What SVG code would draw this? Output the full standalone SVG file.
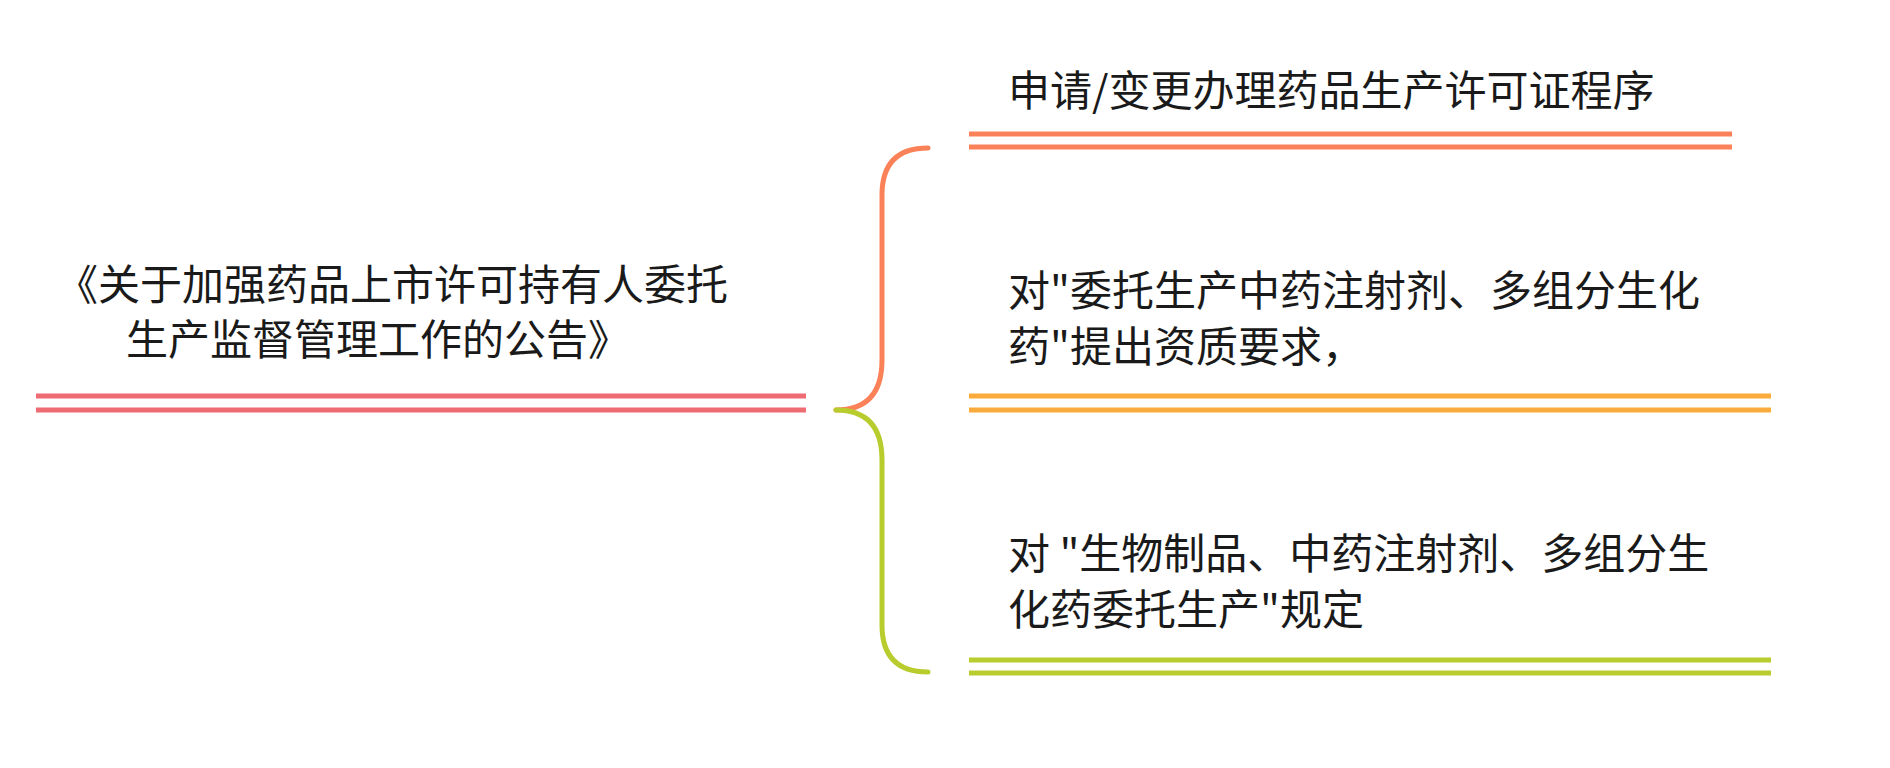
<svg xmlns="http://www.w3.org/2000/svg" width="1890" height="768" viewBox="0 0 1890 768">
<style>
text{font-family:"Microsoft YaHei","Noto Sans CJK SC",sans-serif;fill:#1a1a1a}
.l{font-size:42px}.r{font-size:42px}
.ln{stroke-width:5;fill:none}
</style>
<rect width="1890" height="768" fill="#fff"/>
<g id="connectors" fill="none" stroke-width="5" stroke-linecap="round">
<path d="M836,410 Q882,410 882,360 L882,195 Q882,148 928,148" stroke="#FA8158"/>
<path d="M836,410 Q882,410 882,460 L882,625 Q882,672 928,672" stroke="#B8CC2D"/>
</g>
<g id="root">
<text class="l" x="392" y="300" text-anchor="middle">《关于加强药品上市许可持有人委托</text>
<text class="l" x="378" y="355" text-anchor="middle">生产监督管理工作的公告》</text>
<path class="ln" stroke="#EE6B73" d="M36,396H806M36,410H806"/>
</g>
<g id="n1">
<text class="r" x="1008" y="106">申请/变更办理药品生产许可证程序</text>
<path class="ln" stroke="#FA8158" d="M969,134H1732M969,147H1732"/>
</g>
<g id="n2">
<text class="r" x="1008" y="306">对"委托生产中药注射剂、多组分生化</text>
<text class="r" x="1008" y="362">药"提出资质要求，</text>
<path class="ln" stroke="#FAAB3C" d="M969,396H1771M969,410H1771"/>
</g>
<g id="n3">
<text class="r" x="1008" y="569">对 "生物制品、中药注射剂、多组分生</text>
<text class="r" x="1008" y="625">化药委托生产"规定</text>
<path class="ln" stroke="#B8CC2D" d="M969,660H1771M969,673H1771"/>
</g>
</svg>
